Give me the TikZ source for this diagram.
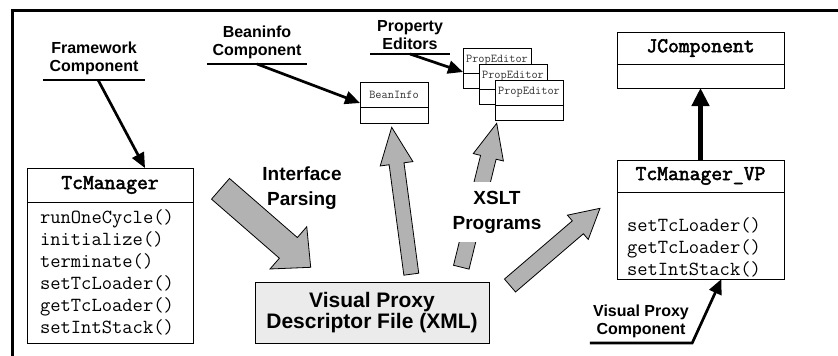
\documentclass[tikz,border=0pt]{standalone}
\usepackage{fontspec}
\setmainfont{Liberation Sans}
\newfontfamily\umlboldfont[FakeBold=2.5]{Latin Modern Mono}
\usetikzlibrary{arrows.meta,calc,positioning}

\tikzset{
  umltitle/.style={draw,fill=white,line width=0.9pt,outer sep=0pt,inner sep=0pt,
    font=\umlboldfont\fontsize{21}{22}\selectfont},
  umlbody/.style={draw,fill=white,line width=0.9pt,outer sep=0pt,inner ysep=0pt,
    align=left,font=\ttfamily\fontsize{20}{22}\selectfont},
  smallbox/.style={draw,fill=white,line width=0.8pt,outer sep=0pt,inner sep=0pt,
    minimum width=68pt,text=black!80,font=\ttfamily\fontsize{12}{12}\selectfont},
  callout/.style={font=\bfseries\fontsize{16}{18}\selectfont,align=center,
    inner xsep=0pt,inner ysep=4.5pt,anchor=south},
  uline/.style={line width=2.7pt},
  pointer/.style={line width=2.7pt,-{Triangle[length=15pt,width=13pt]}},
  fatpointer/.style={line width=4.3pt,-{Triangle[length=18pt,width=17pt]}},
  bigtext/.style={font=\bfseries\fontsize{19}{25}\selectfont,align=center},
  grayarrow/.style={draw=black,fill=black!30,line width=0.8pt,line join=miter},
}

\newcommand{\blockarrow}[5]{%
  \coordinate (ba-h) at ($(#2)!#5!(#1)$);
  \filldraw[grayarrow] ($(#1)!#3!90:(#2)$) -- ($(ba-h)!#3!90:(#2)$)
    -- ($(ba-h)!#4!90:(#2)$) -- (#2) -- ($(ba-h)!#4!-90:(#2)$)
    -- ($(ba-h)!#3!-90:(#2)$) -- ($(#1)!#3!-90:(#2)$) -- cycle;
}

\begin{document}
\begin{tikzpicture}[x=1pt,y=-1pt]

  \useasboundingbox (0,0) rectangle (838,356);
  \draw[line width=3pt] (12.5,356) -- (12.5,10.5) -- (838,10.5);

  \node[umltitle,minimum width=166pt,minimum height=34pt,anchor=north west] (tcm) at (27,168) {TcManager};
  \node[umlbody,text width=140pt,inner xsep=13pt,minimum height=141pt,below=0pt of tcm] (tcmb)
    {runOneCycle()\\initialize()\\terminate()\\setTcLoader()\\getTcLoader()\\setIntStack()};

  \node[umltitle,minimum width=167pt,minimum height=32pt,anchor=north west] (jc) at (617,32) {JComponent};
  \node[umlbody,minimum width=167pt,minimum height=24pt,below=0pt of jc] (jcb) {};

  \node[umltitle,minimum width=167pt,minimum height=32pt,anchor=north west] (vp) at (617,160) {TcManager\_VP};
  \node[umlbody,text width=147pt,inner xsep=10pt,minimum height=87pt,below=0pt of vp] (vpb)
    {\strut\\setTcLoader()\\getTcLoader()\\setIntStack()};

  \node[smallbox,minimum height=25pt,anchor=north west] (bean) at (360,82) {BeanInfo};
  \node[smallbox,minimum height=16pt,below=0pt of bean] (beanb) {};

  \node[smallbox,minimum height=25pt,anchor=north west] (pe1) at (463,48) {PropEditor};
  \node[smallbox,minimum height=15pt,below=0pt of pe1] (pe1b) {};
  \node[smallbox,minimum height=25pt,anchor=north west] (pe2) at (479,64) {PropEditor};
  \node[smallbox,minimum height=15pt,below=0pt of pe2] (pe2b) {};
  \node[smallbox,minimum height=25pt,anchor=north west] (pe3) at (495,80) {PropEditor};
  \node[smallbox,minimum height=15pt,below=0pt of pe3] (pe3b) {};

  \node[draw,fill=black!8,line width=0.9pt,minimum width=234pt,minimum height=61pt,
    font=\bfseries\fontsize{21}{21}\selectfont,align=center] (xml) at (372,312.5)
    {Visual Proxy\\Descriptor File (XML)};

  \coordinate (ipT) at (220.5,188.8);
  \coordinate (ipH) at (310.7,267.3);
  \coordinate (biT) at (411.3,274.2);
  \coordinate (biH) at (391.7,127.3);
  \coordinate (peT) at (461.3,267.2);
  \coordinate (peH) at (496.7,123.3);
  \coordinate (vpT) at (510,285.5);
  \coordinate (vpH) at (600,208.3);

  \blockarrow{ipT}{ipH}{13.7pt}{28pt}{29.6pt}
  \blockarrow{biT}{biH}{7.5pt}{16.5pt}{36.8pt}
  \blockarrow{peT}{peH}{8pt}{15.5pt}{35pt}
  \blockarrow{vpT}{vpH}{8.5pt}{16pt}{29.2pt}

  \node[bigtext] (ip) at (302,188) {Interface\\Parsing};
  \node[bigtext,fill=white,inner ysep=9pt] (xslt) at (497,212) {XSLT\\Programs};

  \node[callout,minimum width=102pt] (fw) at (94,80) {Framework\\Component};
  \node[callout,minimum width=100pt] (bi) at (257,64) {Beaninfo\\Component};
  \node[callout,minimum width=80pt] (pe) at (410,54) {Property\\Editors};
  \node[callout,minimum width=102pt] (vpc) at (641,343) {Visual Proxy\\Component};

  \draw[uline] (fw.south west) -- (fw.south east);
  \draw[uline] (bi.south west) -- (bi.south east);
  \draw[uline] (pe.south west) -- (pe.south east);

  \draw[pointer] ($(fw.south west)!0.54!(fw.south east)$) -- ([xshift=35pt]tcm.north);
  \draw[pointer] (bi.south) -- ([yshift=4pt]bean.south west);
  \draw[pointer] (pe.south) -- ([yshift=1pt]pe1.south west);
  \draw[fatpointer] (vp.north) -- (jcb.south);
  \draw[uline,-{Triangle[length=15pt,width=13pt]}] (vpc.south west) -- (vpc.south east) -- ([xshift=21pt]vpb.south);

\end{tikzpicture}
\end{document}
